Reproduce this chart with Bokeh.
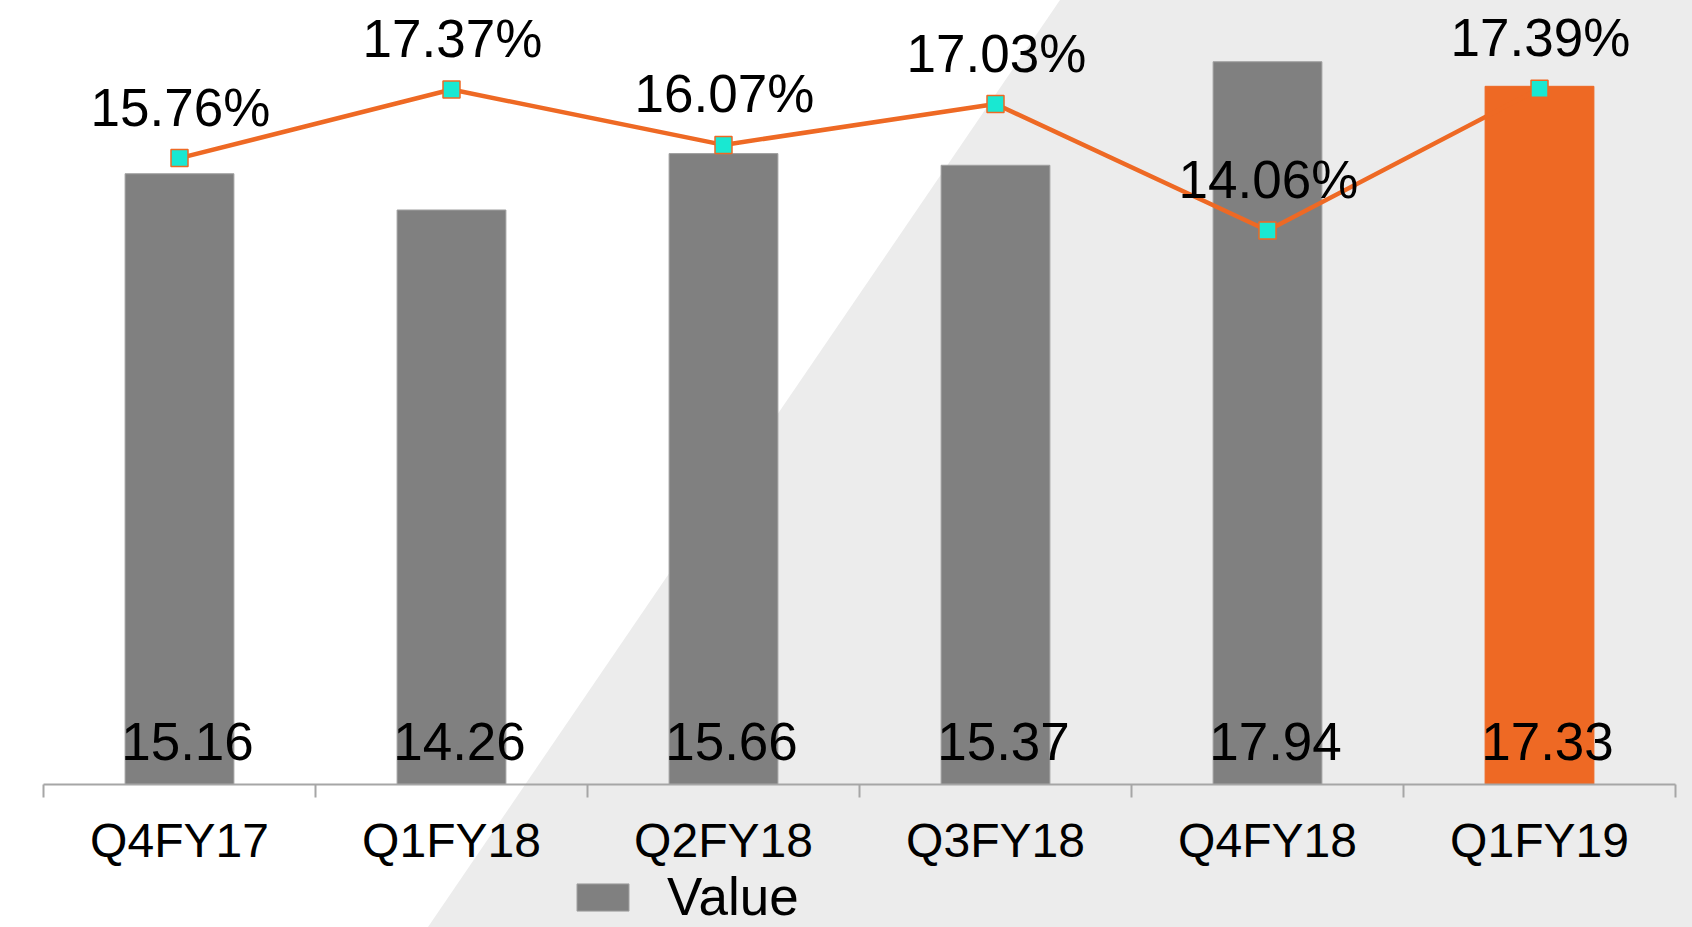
from bokeh.plotting import figure
from bokeh.layouts import column
from bokeh.models import (Range1d, LinearAxis, FixedTicker, ColumnDataSource,
                          Legend, LegendItem)
from bokeh.core.properties import value
from bokeh.embed import file_html
from bokeh.resources import INLINE

# ---- data ----
categories = ["Q4FY17", "Q1FY18", "Q2FY18", "Q3FY18", "Q4FY18", "Q1FY19"]
values = [15.16, 14.26, 15.66, 15.37, 17.94, 17.33]
pct = [15.76, 17.37, 16.07, 17.03, 14.06, 17.39]
series_name = "Value"

GRAY = "#808080"
ORANGE = "#EE6924"
bar_colors = [GRAY] * 5 + [ORANGE]
bar_lines = ["#A0A0A0"] * 5 + [ORANGE]

FONT = "Liberation Sans"
W, H = 1692, 927
H1 = 869                      # main chart (frame + axis panel)
H2 = H - H1                   # legend strip
LEFT, RIGHT, TOP, BOTTOM = 43, 17, 0, H1 - 784
n = len(categories)
xs = [i + 0.5 for i in range(n)]

p = figure(width=W, height=H1, x_range=Range1d(0, n), y_range=Range1d(0, 19.46),
           x_axis_location=None, y_axis_location=None,
           output_backend="svg", toolbar_location=None,
           min_border_left=LEFT, min_border_right=RIGHT,
           min_border_top=TOP, min_border_bottom=BOTTOM)
p.extra_y_ranges = {"pct": Range1d(1.055, 19.46)}
p.outline_line_color = None
p.background_fill_color = None
p.border_fill_color = None
p.grid.visible = False

src = ColumnDataSource(dict(
    x=xs, cat=categories, val=values, pct=pct,
    vlab=[f"{v:.2f}" for v in values],
    plab=[f"{v:.2f}%" for v in pct],
    color=bar_colors, lcolor=bar_lines,
))

bars = p.vbar(x="x", top="val", bottom=0, width=0.4, fill_color="color",
              line_color="lcolor", line_width=1, source=src)
p.line("x", "pct", y_range_name="pct", line_color=ORANGE, line_width=4.5, source=src)
p.scatter("x", "pct", y_range_name="pct", marker="square", size=17,
          fill_color="#19E8D2", line_color=ORANGE, line_width=1.5, source=src)

p.text(x="x", y=0, text="vlab", source=src, text_font=value(FONT),
       text_font_size="53px", text_color="black", text_align="center",
       text_baseline="alphabetic", y_offset=-43, x_offset=8)
p.text(x="x", y="pct", text="plab", source=src, y_range_name="pct",
       text_font=value(FONT), text_font_size="53px", text_color="black",
       text_align="center", text_baseline="alphabetic", y_offset=-51, x_offset=1)

# ---- category axis with boundary ticks ----
ticker = FixedTicker(ticks=xs, minor_ticks=list(range(n + 1)))
ax = LinearAxis(ticker=ticker,
                major_label_overrides={x: c for x, c in zip(xs, categories)})
ax.major_tick_out = 0
ax.major_tick_in = 0
ax.minor_tick_out = 13
ax.minor_tick_in = 0
ax.axis_line_color = "#A6A6A6"
ax.axis_line_width = 2
ax.minor_tick_line_color = "#A6A6A6"
ax.minor_tick_line_width = 2
ax.major_label_text_font = FONT
ax.major_label_text_font_size = "48px"
ax.major_label_text_color = "black"
ax.major_label_standoff = 16
p.add_layout(ax, "below")

# ---- legend strip (separate figure so it is not clipped) ----
p2 = figure(width=W, height=H2, x_range=Range1d(100, 101), y_range=Range1d(100, 101),
            x_axis_location=None, y_axis_location=None,
            output_backend="svg", toolbar_location=None,
            min_border_left=0, min_border_right=0, min_border_top=0, min_border_bottom=0)
p2.outline_line_color = None
p2.background_fill_color = None
p2.border_fill_color = None
p2.grid.visible = False
legend_bars = p2.vbar(x="x", top="val", bottom=0, width=0.4, fill_color="color",
                      line_color="lcolor", line_width=1, source=src)
legend = Legend(items=[LegendItem(label=series_name, renderers=[legend_bars], index=0)],
                location=(527, 0), orientation="horizontal",
                glyph_width=65, glyph_height=34, label_standoff=32,
                label_text_font=FONT, label_text_font_size="53px",
                label_text_color="black", padding=0, margin=0, spacing=0,
                border_line_color=None, background_fill_alpha=0)
p2.add_layout(legend)

layout = column(p, p2, spacing=0)

# ---- diagonal light-gray page background (decoration via CSS) ----
svg_bg = ("<svg xmlns='http://www.w3.org/2000/svg' width='1692' height='927'>"
          "<rect width='1692' height='927' fill='#FFFFFF'/>"
          "<polygon points='1060,0 1692,0 1692,927 428,927' fill='#ECECEC'/></svg>")
svg_bg = svg_bg.replace("#", "%23").replace("<", "%3C").replace(">", "%3E")
layout.styles = {"background-image": 'url("data:image/svg+xml,' + svg_bg + '")',
                 "background-repeat": "no-repeat",
                 "background-color": "#FFFFFF"}

open("out.html", "w").write(file_html(layout, INLINE))
